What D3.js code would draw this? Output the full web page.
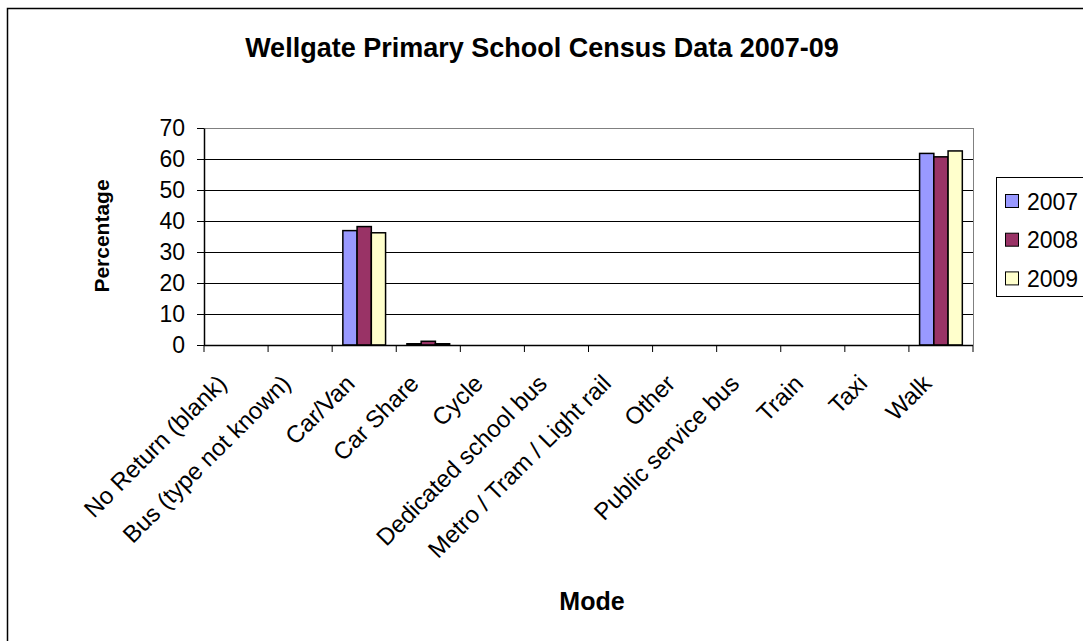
<!DOCTYPE html>
<html>
<head>
<meta charset="utf-8">
<script src="https://cdn.jsdelivr.net/npm/d3@7"></script>
<style>
    body { margin: 0; background: #fff; }
    text { font-family: "Liberation Sans", Arial, sans-serif; }
</style>
</head>
<body>
<div id="chart"></div>
<script>
var modes = ["No Return (blank)", "Bus (type not known)", "Car/Van", "Car Share", "Cycle",
    "Dedicated school bus", "Metro / Tram / Light rail", "Other", "Public service bus",
    "Train", "Taxi", "Walk"];
var years = ["2007", "2008", "2009"];
var values2007 = [0, 0, 36.9, 0.4, 0, 0, 0, 0, 0, 0, 0, 61.8];
var values2008 = [0, 0, 38.2, 1.2, 0, 0, 0, 0, 0, 0, 0, 60.7];
var values2009 = [0, 0, 36.2, 0.4, 0, 0, 0, 0, 0, 0, 0, 62.6];
var yTicks = [0, 10, 20, 30, 40, 50, 60, 70];
var yearColors = ["#9999FF", "#993366", "#FFFFCC"];

var width = 1083,
    height = 641;
var plot = {left: 204, right: 973, top: 128, bottom: 345};

var svg = d3.select("#chart").append("svg")
    .attr("width", width)
    .attr("height", height);

// chart frame (runs off the right / bottom of the picture)
svg.append("rect")
    .attr("x", 7.5).attr("y", 8.5)
    .attr("width", 1100).attr("height", 700)
    .attr("fill", "#fff")
    .attr("stroke", "#000")
    .attr("stroke-width", 1.5);

var x = d3.scaleBand()
    .domain(modes)
    .range([plot.left, plot.right])
    .paddingInner(0)
    .paddingOuter(0);

var xInner = d3.scaleBand()
    .domain(years)
    .range([0, x.bandwidth()])
    .paddingOuter(0.75)
    .paddingInner(0);

var y = d3.scaleLinear()
    .domain([0, 70])
    .range([plot.bottom, plot.top]);

// gridlines
svg.append("g")
    .selectAll("line")
    .data(yTicks.filter(function (d) { return d > 0; }))
    .enter().append("line")
    .attr("x1", plot.left).attr("x2", plot.right)
    .attr("y1", function (d) { return Math.round(y(d)) + 0.5; })
    .attr("y2", function (d) { return Math.round(y(d)) + 0.5; })
    .attr("stroke", function (d) { return d === 70 ? "#808080" : "#000"; })
    .attr("stroke-width", 1);

// right border of plot area
svg.append("line")
    .attr("x1", plot.right + 0.5).attr("x2", plot.right + 0.5)
    .attr("y1", plot.top).attr("y2", plot.bottom)
    .attr("stroke", "#808080");

// bars
var series = years.map(function (yr, i) {
    return {year: yr, values: [values2007, values2008, values2009][i]};
});

var groups = svg.append("g").selectAll("g")
    .data(series)
    .enter().append("g")
    .attr("fill", function (d, i) { return yearColors[i]; });

groups.selectAll("rect")
    .data(function (s) {
        return s.values.map(function (v, j) { return {mode: modes[j], year: s.year, value: v}; });
    })
    .enter().append("rect")
    .filter(function (d) { return d.value > 0; })
    .attr("x", function (d) { return x(d.mode) + xInner(d.year); })
    .attr("y", function (d) { return y(d.value); })
    .attr("width", xInner.bandwidth())
    .attr("height", function (d) { return y(0) - y(d.value); })
    .attr("stroke", "#000")
    .attr("stroke-width", 1.5);

// y axis
var yAxis = svg.append("g")
    .attr("transform", "translate(" + plot.left + ",0)")
    .call(d3.axisLeft(y).tickValues(yTicks).tickSize(7).tickSizeOuter(0).tickPadding(12));
yAxis.select(".domain").attr("stroke", "#000").attr("stroke-width", 1.5);
yAxis.selectAll(".tick line").attr("stroke", "#000");
yAxis.selectAll(".tick text")
    .attr("font-size", "23px")
    .attr("fill", "#000")
    .attr("font-family", "Liberation Sans, Arial, sans-serif");

// x axis (ticks at category boundaries)
var boundaries = modes.map(function (m) { return x(m); }).concat([plot.right]);
svg.append("line")
    .attr("x1", plot.left).attr("x2", plot.right)
    .attr("y1", plot.bottom + 0.5).attr("y2", plot.bottom + 0.5)
    .attr("stroke", "#000").attr("stroke-width", 1.5);
svg.append("g").selectAll("line")
    .data(boundaries)
    .enter().append("line")
    .attr("x1", function (d) { return d; }).attr("x2", function (d) { return d; })
    .attr("y1", plot.bottom).attr("y2", plot.bottom + 7)
    .attr("stroke", "#000");

svg.append("g").selectAll("text")
    .data(modes)
    .enter().append("text")
    .attr("transform", function (d) {
        return "translate(" + (x(d) + x.bandwidth() / 2 - 8) + "," + (plot.bottom + 40) + ") rotate(-45)";
    })
    .attr("text-anchor", "end")
    .attr("font-size", "24px")
    .attr("fill", "#000")
    .text(function (d) { return d; });

// title and axis titles
svg.append("text")
    .attr("x", 542).attr("y", 57)
    .attr("text-anchor", "middle")
    .attr("font-size", "27px")
    .attr("font-weight", "bold")
    .text("Wellgate Primary School Census Data 2007-09");

svg.append("text")
    .attr("transform", "translate(109,236) rotate(-90)")
    .attr("text-anchor", "middle")
    .attr("font-size", "21px")
    .attr("font-weight", "bold")
    .text("Percentage");

svg.append("text")
    .attr("x", 592).attr("y", 610)
    .attr("text-anchor", "middle")
    .attr("font-size", "25px")
    .attr("font-weight", "bold")
    .text("Mode");

// legend
var legend = svg.append("g");
legend.append("rect")
    .attr("x", 996.5).attr("y", 177.5)
    .attr("width", 120).attr("height", 119)
    .attr("fill", "#fff")
    .attr("stroke", "#000");

var item = legend.selectAll("g.item")
    .data(years)
    .enter().append("g")
    .attr("class", "item")
    .attr("transform", function (d, i) { return "translate(0," + (201 + i * 38.7) + ")"; });

item.append("rect")
    .attr("x", 1005.5).attr("y", -6.5)
    .attr("width", 13).attr("height", 13)
    .attr("fill", function (d, i) { return yearColors[i]; })
    .attr("stroke", "#000");

item.append("text")
    .attr("x", 1027).attr("y", 8.5)
    .attr("font-size", "23px")
    .text(function (d) { return d; });
</script>
</body>
</html>
